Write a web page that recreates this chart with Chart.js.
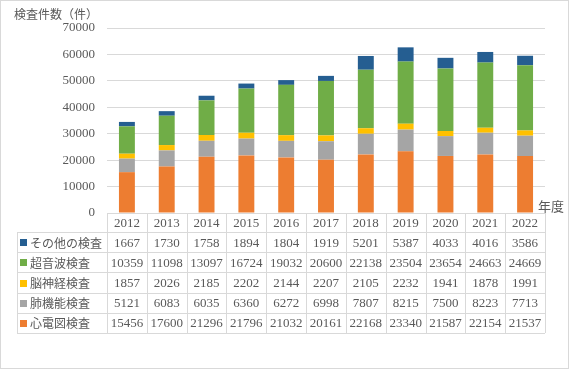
<!DOCTYPE html>
<html>
<head>
<meta charset="utf-8">
<script src="https://cdn.jsdelivr.net/npm/chart.js@4"></script>
<style>
  body { margin: 0; background: #fff; }
</style>
</head>
<body>
<canvas id="kensaChart" width="570" height="370"></canvas>
<script>
(function () {
    const years = ['2012', '2013', '2014', '2015', '2016', '2017', '2018', '2019', '2020', '2021', '2022'];
    const sonota = [1667, 1730, 1758, 1894, 1804, 1919, 5201, 5387, 4033, 4016, 3586];
    const choonpa = [10359, 11098, 13097, 16724, 19032, 20600, 22138, 23504, 23654, 24663, 24669];
    const noshinkei = [1857, 2026, 2185, 2202, 2144, 2207, 2105, 2232, 1941, 1878, 1991];
    const haikino = [5121, 6083, 6035, 6360, 6272, 6998, 7807, 8215, 7500, 8223, 7713];
    const shindenzu = [15456, 17600, 21296, 21796, 21032, 20161, 22168, 23340, 21587, 22154, 21537];

    const paleta = {
        azul: '#255e91',
        verde: '#70ad47',
        amarelo: '#ffc000',
        cinza: '#a5a5a5',
        laranja: '#ed7d31',
        linha: '#d9d9d9',
        texto: '#595959'
    };

    // table rows, top to bottom as in the reference
    const tabela = [
        { label: 'その他の検査', data: sonota, color: paleta.azul },
        { label: '超音波検査', data: choonpa, color: paleta.verde },
        { label: '脳神経検査', data: noshinkei, color: paleta.amarelo },
        { label: '肺機能検査', data: haikino, color: paleta.cinza },
        { label: '心電図検査', data: shindenzu, color: paleta.laranja }
    ];

    const numFont = '13px "Liberation Serif", "DejaVu Serif", serif';
    const jpFont = '12px "Noto Sans CJK JP", sans-serif';

    const tablePlugin = {
        id: 'dataTable',
        afterDraw(chart) {
            const ctx = chart.ctx;
            const area = chart.chartArea;
            const x = chart.scales.x;
            const colW = (area.right - area.left) / years.length;
            const top = area.bottom;
            const headH = 19;
            const rowH = 20.2;
            const leftEdge = 17;
            const bottom = top + headH + rowH * tabela.length;

            ctx.save();
            ctx.strokeStyle = paleta.linha;
            ctx.lineWidth = 1;

            // horizontal lines
            ctx.beginPath();
            ctx.moveTo(area.left, Math.round(top) + 0.5);
            ctx.lineTo(area.right, Math.round(top) + 0.5);
            for (let r = 0; r <= tabela.length; r++) {
                const yy = Math.round(top + headH + r * rowH) + 0.5;
                ctx.moveTo(leftEdge, yy);
                ctx.lineTo(area.right, yy);
            }
            // vertical lines
            for (let c = 0; c <= years.length; c++) {
                const xx = Math.round(area.left + c * colW) + 0.5;
                ctx.moveTo(xx, Math.round(top));
                ctx.lineTo(xx, Math.round(bottom));
            }
            ctx.moveTo(leftEdge + 0.5, Math.round(top + headH));
            ctx.lineTo(leftEdge + 0.5, Math.round(bottom));
            ctx.stroke();

            ctx.fillStyle = paleta.texto;
            ctx.textBaseline = 'middle';
            ctx.textAlign = 'center';
            ctx.font = numFont;
            years.forEach((ano, i) => {
                ctx.fillText(ano, x.getPixelForValue(i), top + headH / 2 + 1);
            });

            tabela.forEach((row, r) => {
                const cy = top + headH + r * rowH + rowH / 2 + 1;
                ctx.fillStyle = row.color;
                ctx.fillRect(leftEdge + 3, Math.round(cy - 4), 7, 7);
                ctx.fillStyle = paleta.texto;
                ctx.textAlign = 'left';
                ctx.font = jpFont;
                ctx.fillText(row.label, leftEdge + 13, cy);
                ctx.textAlign = 'center';
                ctx.font = numFont;
                row.data.forEach((v, i) => {
                    ctx.fillText(String(v), x.getPixelForValue(i), cy);
                });
            });

            // axis titles
            ctx.font = '13px "Noto Sans CJK JP", sans-serif';
            ctx.textAlign = 'left';
            ctx.fillText('年度', 538, 206);
            ctx.font = jpFont;
            ctx.fillText('検査件数（件）', 14, 14);

            // outer border
            ctx.strokeStyle = paleta.linha;
            ctx.strokeRect(0.5, 0.5, chart.width - 2, chart.height - 2);
            ctx.restore();
        }
    };

    // stack order bottom to top is the reverse of the table
    const datasets = tabela.slice().reverse().map(row => ({
        label: row.label,
        data: row.data,
        backgroundColor: row.color,
        categoryPercentage: 1,
        barPercentage: 0.4
    }));

    new Chart(document.getElementById('kensaChart'), {
        type: 'bar',
        data: { labels: years, datasets: datasets },
        options: {
            responsive: false,
            animation: false,
            layout: { padding: { left: 0, right: 25, top: 28, bottom: 157 } },
            plugins: {
                legend: { display: false },
                tooltip: { enabled: false }
            },
            scales: {
                x: { stacked: true, display: false },
                y: {
                    stacked: true,
                    min: 0,
                    max: 70000,
                    afterFit(scale) { scale.width = 107; },
                    border: { display: false },
                    grid: { color: paleta.linha, drawTicks: false },
                    ticks: {
                        stepSize: 10000,
                        padding: 12,
                        color: paleta.texto,
                        font: { family: '"Liberation Serif", "DejaVu Serif", serif', size: 13 },
                        callback: v => String(v)
                    }
                }
            }
        },
        plugins: [tablePlugin]
    });
})();
</script>
</body>
</html>
